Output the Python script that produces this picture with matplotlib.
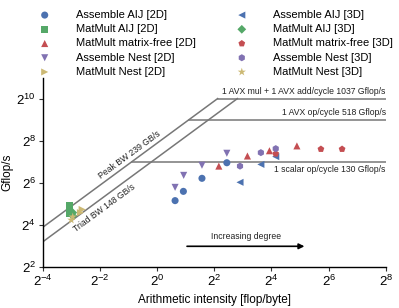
import numpy as np
import matplotlib
matplotlib.use('Agg')
import matplotlib.pyplot as plt
from matplotlib.ticker import FixedLocator, FuncFormatter

plt.rcParams['font.family'] = ['Liberation Sans', 'DejaVu Sans']
plt.rcParams['mathtext.fontset'] = 'custom'
plt.rcParams['mathtext.rm'] = 'Liberation Sans'
plt.rcParams['mathtext.it'] = 'Liberation Sans'

# roofline numbers
peak_bw = 239.0
triad_bw = 148.0
ceilings = [1037.0, 518.0, 130.0]
ceiling_labels = ['1 AVX mul + 1 AVX add/cycle 1037 Gflop/s',
                  '1 AVX op/cycle 518 Gflop/s',
                  '1 scalar op/cycle 130 Gflop/s']

# data, log2 of (flop/byte, Gflop/s)
asm_aij_2d_x = [0.63, 0.92, 1.57, 2.44]
asm_aij_2d_y = [5.17, 5.61, 6.23, 6.97]
mm_aij_2d_x = [-3.05, -3.05, -3.05, -3.05]
mm_aij_2d_y = [4.95, 4.80, 4.65, 4.55]
mm_mf_2d_x = [2.16, 3.16, 3.93, 4.89]
mm_mf_2d_y = [6.81, 7.29, 7.54, 7.77]
asm_nest_2d_x = [0.63, 0.93, 1.57, 2.44]
asm_nest_2d_y = [5.80, 6.37, 6.85, 7.42]
mm_nest_2d_x = [-2.62, -2.68]
mm_nest_2d_y = [4.75, 4.60]

asm_aij_3d_x = [2.90, 3.63, 4.15]
asm_aij_3d_y = [6.04, 6.89, 7.26]
mm_aij_3d_x = [-2.95, -2.95]
mm_aij_3d_y = [4.45, 4.60]
mm_mf_3d_x = [4.15, 5.73, 6.47]
mm_mf_3d_y = [7.40, 7.62, 7.62]
asm_nest_3d_x = [2.90, 3.63, 4.15]
asm_nest_3d_y = [6.81, 7.45, 7.64]
mm_nest_3d_x = [-3.0, -2.95]
mm_nest_3d_y = [4.25, 4.40]

blue = '#4C72B0'
green = '#55A868'
red = '#C44E52'
purple = '#8172B2'
yellow = '#CCB974'

series = [
    ('Assemble AIJ [2D]', asm_aij_2d_x, asm_aij_2d_y, 'o', blue),
    ('MatMult AIJ [2D]', mm_aij_2d_x, mm_aij_2d_y, 's', green),
    ('MatMult matrix-free [2D]', mm_mf_2d_x, mm_mf_2d_y, '^', red),
    ('Assemble Nest [2D]', asm_nest_2d_x, asm_nest_2d_y, 'v', purple),
    ('MatMult Nest [2D]', mm_nest_2d_x, mm_nest_2d_y, '>', yellow),
    ('Assemble AIJ [3D]', asm_aij_3d_x, asm_aij_3d_y, '<', blue),
    ('MatMult AIJ [3D]', mm_aij_3d_x, mm_aij_3d_y, 'D', green),
    ('MatMult matrix-free [3D]', mm_mf_3d_x, mm_mf_3d_y, 'p', red),
    ('Assemble Nest [3D]', asm_nest_3d_x, asm_nest_3d_y, 'h', purple),
    ('MatMult Nest [3D]', mm_nest_3d_x, mm_nest_3d_y, '*', yellow),
]

fig = plt.figure(figsize=(3.99, 3.08), dpi=100)
ax = fig.add_axes([0.107, 0.132, 0.86, 0.615])
ax.set_xscale('log', base=2)
ax.set_yscale('log', base=2)
xmin, xmax = 2.0**-4, 2.0**8
ax.set_xlim(xmin, xmax)
ax.set_ylim(2.0**2, 2.0**11)

lc = '#777777'
for bw in [peak_bw, triad_bw]:
    xend = ceilings[0] / bw
    ax.plot([xmin, xend], [bw * xmin, ceilings[0]], color=lc, lw=1.1, zorder=1)
for c in ceilings:
    ax.plot([c / peak_bw, xmax], [c, c], color=lc, lw=1.1, zorder=1)

tc = '#222222'
ax.text(xmax, ceilings[0] * 1.1, ceiling_labels[0], ha='right', va='bottom', fontsize=6.2, color=tc)
ax.text(xmax, ceilings[1] * 1.1, ceiling_labels[1], ha='right', va='bottom', fontsize=6.2, color=tc)
ax.text(xmax, ceilings[2] / 1.12, ceiling_labels[2], ha='right', va='top', fontsize=6.2, color=tc)
ang = np.degrees(np.arctan(21.04 / 28.58))
ax.text(2**-0.95, 2**7.34, 'Peak BW 239 GB/s', rotation=ang, ha='center', va='center', fontsize=6.2, color=tc)
ax.text(2**-1.86, 2**4.82, 'Triad BW 148 GB/s', rotation=ang, ha='center', va='center', fontsize=6.2, color=tc)

for name, xs, ys, m, col in series:
    ms = 38 if m == '*' else 26
    if m == 'D':
        ms = 20
    ax.scatter(2.0 ** np.array(xs), 2.0 ** np.array(ys), marker=m, s=ms, color=col,
               edgecolors='none', label=name, zorder=3)

ax.annotate('', xy=(2**5.25, 2**3), xytext=(2**0.95, 2**3),
            arrowprops=dict(arrowstyle='-|>', color='black', lw=1.2, mutation_scale=8))
ax.text(2**3.1, 2**3.45, 'Increasing degree', ha='center', va='center', fontsize=6.2, color=tc)

ticks_x = [2.0**k for k in range(-4, 9, 2)]
ticks_y = [2.0**k for k in range(2, 11, 2)]
ax.xaxis.set_major_locator(FixedLocator(ticks_x))
ax.yaxis.set_major_locator(FixedLocator(ticks_y))
ax.xaxis.set_minor_locator(FixedLocator([]))
ax.yaxis.set_minor_locator(FixedLocator([]))
fmt = FuncFormatter(lambda v, p: r'$2^{%d}$' % int(round(np.log2(v))))
ax.xaxis.set_major_formatter(fmt)
ax.yaxis.set_major_formatter(fmt)
ax.tick_params(labelsize=9.5, length=3, width=0.8, color='#333333', pad=2)
for s in ['top', 'right']:
    ax.spines[s].set_visible(False)
for s in ['left', 'bottom']:
    ax.spines[s].set_linewidth(1.0)
ax.set_xlabel('Arithmetic intensity [flop/byte]', fontsize=8.5)
ax.set_ylabel('Gflop/s', fontsize=8.5)
ax.xaxis.set_label_coords(0.5, -0.14)
ax.yaxis.set_label_coords(-0.085, 0.5)

fig.legend(loc='upper center', bbox_to_anchor=(0.535, 1.0), ncol=2, frameon=False,
           fontsize=8, handletextpad=1.85, columnspacing=3.1, labelspacing=0.38,
           scatterpoints=1)

fig.savefig('out.png', dpi=100)
